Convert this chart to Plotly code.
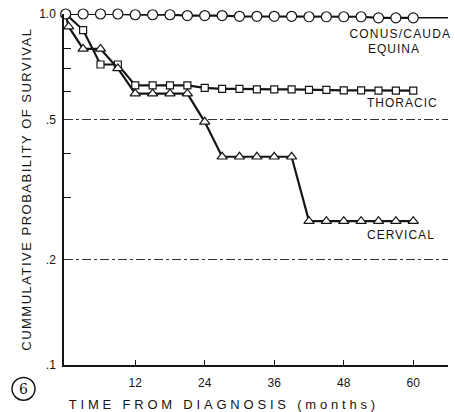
import plotly.graph_objects as go

# ---- data ----
conus_months = [0, 3, 6, 9, 12, 15, 18, 21, 24, 27, 30, 33, 36, 39, 42, 45, 48, 51, 54, 57, 60]
conus_surv = [1.0, 1.0, 1.0, 1.0, 0.995, 0.995, 0.995, 0.99, 0.99, 0.99, 0.985, 0.985, 0.985, 0.985,
              0.982, 0.982, 0.982, 0.982, 0.975, 0.975, 0.975]

thoracic_months = [0, 3, 6, 9, 12, 15, 18, 21, 24, 27, 30, 33, 36, 39, 42, 45, 48, 51, 54, 57, 60]
thoracic_surv = [1.0, 0.90, 0.718, 0.718, 0.626, 0.626, 0.626, 0.626, 0.616, 0.612, 0.612, 0.61, 0.61,
                 0.61, 0.608, 0.608, 0.606, 0.606, 0.605, 0.605, 0.605]

cervical_months = [0, 0.5, 3, 6, 9, 12, 15, 18, 21, 24, 27, 30, 33, 36, 39, 42, 45, 48, 51, 54, 57, 60]
cervical_surv = [1.0, 0.92, 0.795, 0.795, 0.70, 0.593, 0.593, 0.593, 0.593, 0.493, 0.392, 0.392, 0.392,
                 0.392, 0.392, 0.257, 0.257, 0.257, 0.257, 0.257, 0.257, 0.257]

x_ticks = [12, 24, 36, 48, 60]
y_ticks = [0.1, 0.2, 0.5, 1.0]
y_ticktext = [".1", ".2", ".5", "1.0"]
y_minor = [0.3, 0.4, 0.6, 0.7, 0.8]

labels = ["CONUS/CAUDA", "EQUINA", "THORACIC", "CERVICAL"]

X_RANGE = [-0.3, 66.0]
W, H = 455, 412
ML, MR, MT, MB = 64, 7, 11, 47
PW, PH = W - ML - MR, H - MT - MB

def px(x):
    return (x - ML) / PW

def py(y):
    return (H - MB - y) / PH

FONT = "Liberation Sans, Arial, sans-serif"
INK = "#151515"

fig = go.Figure()

fig.add_trace(go.Scatter(
    x=thoracic_months, y=thoracic_surv, mode="lines+markers",
    line=dict(color=INK, width=2.2),
    marker=dict(symbol="square", size=7, color="white", line=dict(color=INK, width=1.2)),
    cliponaxis=False, showlegend=False))

fig.add_trace(go.Scatter(
    x=cervical_months, y=cervical_surv, mode="lines+markers",
    line=dict(color=INK, width=2.2),
    marker=dict(symbol="triangle-up", size=9, color="white", line=dict(color=INK, width=1.2)),
    cliponaxis=False, showlegend=False))

fig.add_trace(go.Scatter(
    x=[conus_months[-1], X_RANGE[1]], y=[conus_surv[-1], conus_surv[-1]], mode="lines",
    line=dict(color=INK, width=1.5), cliponaxis=False, showlegend=False))

fig.add_trace(go.Scatter(
    x=conus_months, y=conus_surv, mode="lines+markers",
    line=dict(color=INK, width=2.2),
    marker=dict(symbol="circle", size=10, color="white", line=dict(color=INK, width=1.2)),
    cliponaxis=False, showlegend=False))

# curve labels
lab_pos = [(400, 31.5), (394, 46), (402, 101), (401, 234)]
for t, (x, y) in zip(labels, lab_pos):
    fig.add_annotation(x=px(x), y=py(y), xref="paper", yref="paper", text=t, showarrow=False,
                       xanchor="center", yanchor="middle",
                       font=dict(family=FONT, size=12, color=INK))

# axis titles
fig.add_annotation(x=px(224), y=py(405), xref="paper", yref="paper",
                   text="TIME FROM DIAGNOSIS (months)", showarrow=False,
                   xanchor="center", yanchor="middle",
                   font=dict(family=FONT, size=13, color=INK))
fig.add_annotation(x=px(26), y=py(188), xref="paper", yref="paper",
                   text="CUMMULATIVE PROBABILITY OF SURVIVAL", showarrow=False, textangle=-90,
                   xanchor="center", yanchor="middle",
                   font=dict(family=FONT, size=13, color=INK))

# circled figure number
fig.add_annotation(x=px(23.5), y=py(389), xref="paper", yref="paper", text="6", showarrow=False,
                   xanchor="center", yanchor="middle",
                   font=dict(family="DejaVu Serif, serif", size=14, color=INK))
fig.add_shape(type="circle", xref="paper", yref="paper",
              x0=px(12), x1=px(35), y0=py(400.5), y1=py(377.5),
              line=dict(color=INK, width=1.5))

fig.update_layout(
    width=W, height=H,
    margin=dict(l=ML, r=MR, t=MT, b=MB),
    paper_bgcolor="white", plot_bgcolor="white",
    font=dict(family=FONT, size=12, color=INK),
    showlegend=False,
)

fig.update_xaxes(
    range=X_RANGE, tickvals=x_ticks, ticks="inside", ticklen=5, tickwidth=1, tickcolor=INK,
    showline=True, linecolor=INK, linewidth=1.5, showgrid=False, zeroline=False,
    tickfont=dict(family=FONT, size=12, color=INK), ticklabelstandoff=6,
)
fig.update_yaxes(
    type="log", range=[-1, 0], tickvals=y_ticks, ticktext=y_ticktext, ticks="",
    showline=True, linecolor=INK, linewidth=1.5,
    showgrid=True, gridcolor="#333", gridwidth=1, griddash="dashdot", zeroline=False,
    tickfont=dict(family=FONT, size=12, color=INK), ticklabelstandoff=4,
    minor=dict(tickvals=y_minor, ticks="inside", ticklen=7, tickwidth=1.2, tickcolor=INK, showgrid=False),
)

spacing_js = """
var gd = document.getElementById('{plot_id}');
var sp = {'TIME FROM DIAGNOSIS (months)': '3.8px', 'CUMMULATIVE PROBABILITY OF SURVIVAL': '1.5px',
          'CONUS/CAUDA': '1.2px', 'EQUINA': '1px', 'THORACIC': '1px', 'CERVICAL': '1px'};
gd.querySelectorAll('text').forEach(function(t){
  var k = t.textContent;
  if (sp[k]) { t.style.letterSpacing = sp[k]; }
});
"""

fig.write_html("out.html", post_script=spacing_js)
